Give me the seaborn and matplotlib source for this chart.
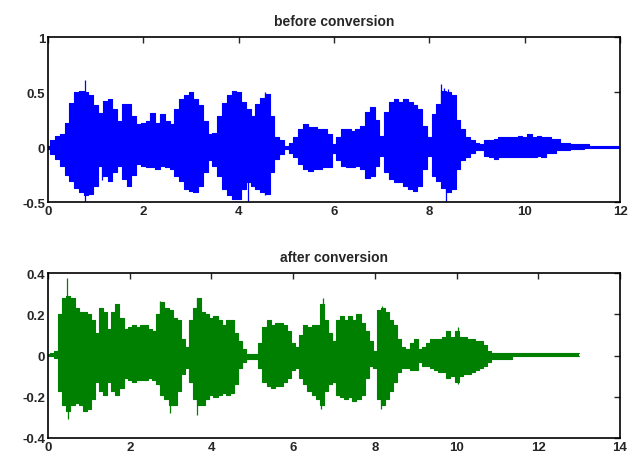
import numpy as np
import matplotlib
matplotlib.use("Agg")
import matplotlib.pyplot as plt
import seaborn as sns

# envelope of each signal, every 0.1 s
STEP = 0.1

before_upper = [0.01, 0.06, 0.10, 0.12, 0.22, 0.40, 0.50, 0.51, 0.50, 0.47,
                0.38, 0.31, 0.42, 0.44, 0.35, 0.24, 0.39, 0.39, 0.28, 0.21,
                0.22, 0.24, 0.31, 0.22, 0.30, 0.24, 0.21, 0.35, 0.44, 0.47,
                0.50, 0.44, 0.38, 0.24, 0.12, 0.13, 0.28, 0.40, 0.47, 0.51,
                0.50, 0.41, 0.35, 0.28, 0.39, 0.45, 0.48, 0.28, 0.09, 0.06,
                0.01, 0.04, 0.09, 0.16, 0.21, 0.18, 0.18, 0.16, 0.16, 0.12,
                0.03, 0.09, 0.16, 0.16, 0.15, 0.16, 0.19, 0.32, 0.36, 0.25,
                0.10, 0.32, 0.41, 0.44, 0.41, 0.44, 0.41, 0.38, 0.35, 0.19,
                0.09, 0.30, 0.39, 0.51, 0.50, 0.47, 0.25, 0.16, 0.09, 0.06,
                0.04, 0.03, 0.06, 0.06, 0.07, 0.09, 0.09, 0.09, 0.09, 0.10,
                0.09, 0.12, 0.09, 0.10, 0.09, 0.09, 0.07, 0.07, 0.04, 0.04,
                0.03, 0.03, 0.03, 0.03, 0.01, 0.005, 0.005, 0.005, 0.005, 0.005,
                0.005]
before_lower = [-0.02, -0.06, -0.11, -0.17, -0.25, -0.31, -0.37, -0.41, -0.44, -0.43,
                -0.35, -0.17, -0.26, -0.31, -0.23, -0.17, -0.29, -0.35, -0.25, -0.15,
                -0.17, -0.18, -0.18, -0.20, -0.17, -0.18, -0.20, -0.26, -0.31, -0.38,
                -0.40, -0.41, -0.35, -0.23, -0.12, -0.17, -0.26, -0.38, -0.44, -0.47,
                -0.47, -0.38, -0.32, -0.35, -0.38, -0.41, -0.43, -0.23, -0.11, -0.06,
                -0.02, -0.05, -0.09, -0.15, -0.20, -0.22, -0.20, -0.20, -0.18, -0.18,
                -0.05, -0.12, -0.17, -0.18, -0.18, -0.17, -0.20, -0.28, -0.26, -0.17,
                -0.08, -0.23, -0.29, -0.32, -0.32, -0.35, -0.38, -0.40, -0.35, -0.20,
                -0.08, -0.26, -0.31, -0.37, -0.41, -0.38, -0.20, -0.12, -0.09, -0.05,
                -0.03, -0.03, -0.08, -0.09, -0.11, -0.09, -0.09, -0.09, -0.09, -0.09,
                -0.09, -0.09, -0.09, -0.08, -0.09, -0.05, -0.05, -0.03, -0.03, -0.03,
                -0.02, -0.02, -0.02, -0.01, -0.01, -0.005, -0.005, -0.005, -0.005, -0.005,
                -0.005]

after_upper = [0.006, 0.01, 0.02, 0.20, 0.28, 0.29, 0.28, 0.23, 0.21, 0.21,
               0.20, 0.17, 0.11, 0.23, 0.21, 0.13, 0.21, 0.25, 0.18, 0.13,
               0.14, 0.15, 0.14, 0.15, 0.15, 0.13, 0.12, 0.20, 0.26, 0.23,
               0.22, 0.18, 0.17, 0.08, 0.04, 0.17, 0.23, 0.28, 0.21, 0.20,
               0.18, 0.19, 0.17, 0.15, 0.17, 0.17, 0.11, 0.07, 0.03, 0.005,
               0.005, 0.005, 0.06, 0.14, 0.17, 0.15, 0.16, 0.16, 0.15, 0.12,
               0.06, 0.04, 0.10, 0.15, 0.14, 0.15, 0.15, 0.25, 0.17, 0.11,
               0.07, 0.17, 0.19, 0.17, 0.19, 0.17, 0.20, 0.16, 0.12, 0.07,
               0.02, 0.22, 0.23, 0.21, 0.17, 0.15, 0.08, 0.04, 0.03, 0.06,
               0.08, 0.03, 0.04, 0.06, 0.08, 0.08, 0.08, 0.09, 0.12, 0.09,
               0.12, 0.09, 0.09, 0.08, 0.08, 0.07, 0.07, 0.05, 0.02, 0.012,
               0.012, 0.012, 0.012, 0.012, 0.012, 0.012, 0.012, 0.012, 0.012, 0.012,
               0.012, 0.012, 0.012, 0.012, 0.012, 0.012, 0.012, 0.012, 0.012, 0.012,
               0.012]
after_lower = [-0.004, -0.004, -0.01, -0.17, -0.24, -0.27, -0.24, -0.23, -0.24, -0.27,
               -0.26, -0.21, -0.13, -0.17, -0.19, -0.13, -0.17, -0.19, -0.16, -0.11,
               -0.12, -0.13, -0.12, -0.12, -0.12, -0.11, -0.12, -0.14, -0.19, -0.21,
               -0.24, -0.24, -0.17, -0.09, -0.06, -0.13, -0.21, -0.24, -0.24, -0.21,
               -0.19, -0.20, -0.19, -0.18, -0.19, -0.18, -0.14, -0.06, -0.03, -0.016,
               -0.016, -0.016, -0.06, -0.13, -0.15, -0.16, -0.15, -0.15, -0.13, -0.11,
               -0.07, -0.06, -0.11, -0.14, -0.17, -0.19, -0.21, -0.24, -0.17, -0.14,
               -0.13, -0.19, -0.20, -0.21, -0.20, -0.22, -0.21, -0.19, -0.11, -0.05,
               -0.06, -0.21, -0.24, -0.21, -0.17, -0.13, -0.08, -0.06, -0.06, -0.07,
               -0.07, -0.03, -0.05, -0.05, -0.06, -0.07, -0.08, -0.08, -0.11, -0.10,
               -0.13, -0.10, -0.09, -0.09, -0.08, -0.07, -0.06, -0.05, -0.03, -0.015,
               -0.015, -0.015, -0.015, -0.015, -0.002, -0.002, -0.002, -0.002, -0.002, -0.002,
               -0.002, -0.002, -0.002, -0.002, -0.002, -0.002, -0.002, -0.002, -0.002, -0.002,
               -0.002]

# narrow peaks that stick out of the envelope: time, low, high
before_spike_t = [0.78, 1.14, 4.19, 4.55, 8.24, 8.31, 8.34, 8.39]
before_spike_lo = [-0.50, -0.30, -0.50, -0.44, -0.30, -0.30, -0.49, -0.30]
before_spike_hi = [0.61, 0.30, 0.30, 0.50, 0.57, 0.54, 0.30, 0.53]
after_spike_t = [0.46, 0.50, 2.74, 2.99, 3.64, 3.65, 6.68, 6.72, 8.15, 8.17, 10.04]
after_spike_lo = [-0.20, -0.31, -0.15, -0.28, -0.29, -0.20, -0.26, -0.15, -0.26, -0.15, -0.14]
after_spike_hi = [0.375, 0.25, 0.265, 0.20, 0.20, 0.28, 0.15, 0.28, 0.20, 0.24, 0.14]

titles = ["before conversion", "after conversion"]
before_xticks = [0, 2, 4, 6, 8, 10, 12]
before_yticks = [-0.5, 0, 0.5, 1]
before_ylabels = ["-0.5", "0", "0.5", "1"]
after_xticks = [0, 2, 4, 6, 8, 10, 12, 14]
after_yticks = [-0.4, -0.2, 0, 0.2, 0.4]
after_ylabels = ["-0.4", "-0.2", "0", "0.2", "0.4"]


def draw_wave(ax, upper, lower, spike_t, spike_lo, spike_hi, color):
    t = np.round(np.arange(len(upper)) * STEP, 2)
    ax.fill_between(t, lower, upper, step="mid", color=color, linewidth=0)
    sns.lineplot(x=t, y=upper, drawstyle="steps-mid", color=color, linewidth=0.8, ax=ax)
    sns.lineplot(x=t, y=lower, drawstyle="steps-mid", color=color, linewidth=0.8, ax=ax)
    ax.vlines(spike_t, spike_lo, spike_hi, color=color, linewidth=0.9)


def style_axes(ax, title, xticks, yticks, ylabels, xlim, ylim):
    ax.set_xlim(*xlim)
    ax.set_ylim(*ylim)
    ax.set_xticks(xticks)
    ax.set_xticklabels([str(x) for x in xticks], fontweight="bold")
    ax.set_yticks(yticks)
    ax.set_yticklabels(ylabels, fontweight="bold")
    ax.set_title(title, fontsize=10, fontweight="bold", pad=9)
    ax.tick_params(direction="in", top=True, right=True, length=4, width=1,
                   labelsize=9.5, pad=2)
    for s in ax.spines.values():
        s.set_visible(True)
        s.set_linewidth(1.2)
        s.set_color("black")


def main():
    sns.set_style("white")
    plt.rcParams["font.family"] = ["Liberation Sans", "DejaVu Sans"]

    fig = plt.figure(figsize=(6.38, 4.56), dpi=100)
    ax1 = fig.add_axes([0.0752, 0.5548, 0.8966, 0.3618])
    ax2 = fig.add_axes([0.0752, 0.0373, 0.8966, 0.3618])

    draw_wave(ax1, before_upper, before_lower, before_spike_t, before_spike_lo,
              before_spike_hi, "#0000ff")
    draw_wave(ax2, after_upper, after_lower, after_spike_t, after_spike_lo,
              after_spike_hi, "#008000")

    style_axes(ax1, titles[0], before_xticks, before_yticks, before_ylabels, (0, 12), (-0.5, 1))
    style_axes(ax2, titles[1], after_xticks, after_yticks, after_ylabels, (0, 14), (-0.4, 0.4))

    fig.savefig("out.png", dpi=100)


if __name__ == "__main__":
    main()
